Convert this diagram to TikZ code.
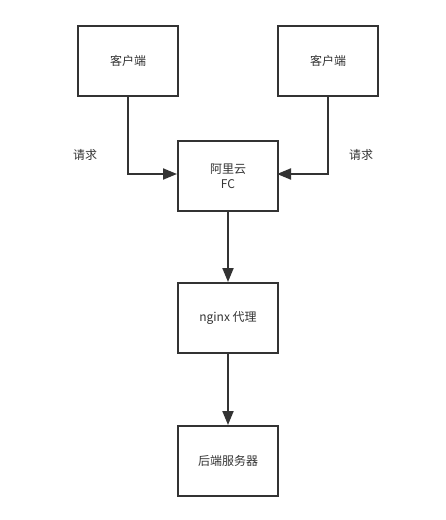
\documentclass[tikz,border=0pt]{standalone}
\usepackage{fontspec}
\setmainfont{Noto Sans CJK SC}
\usetikzlibrary{arrows.meta}
\definecolor{ink}{HTML}{333333}
\begin{document}
\begin{tikzpicture}[x=1pt,y=-1pt,
  box/.style={draw=ink,line width=2pt,minimum width=100pt,minimum height=70pt,inner sep=0pt,text=ink,font=\fontsize{12}{15}\selectfont,align=center,anchor=north west},
  lbl/.style={text=ink,font=\fontsize{12}{15}\selectfont},
  conn/.style={draw=ink,line width=2pt,-{Triangle[length=14pt,width=11pt]}}]
\useasboundingbox (0,0) rectangle (446,520);
\node[box] (c1) at (77,25) {客户端};
\node[box] (c2) at (277,25) {客户端};
\node[box] (fc) at (177,140) {阿里云\\FC};
\node[box] (ng) at (177,282) {nginx 代理};
\node[box] (be) at (177,425) {后端服务器};
\node[lbl] (l1) at (85,155) {请求};
\node[lbl] (l2) at (361,155) {请求};
\coordinate (fcl) at (177,174);
\coordinate (fcr) at (277,174);
\draw[conn] (c1.south) |- (fcl);
\draw[conn] (c2.south) |- (fcr);
\draw[conn] (fc.south) -- (ng.north);
\draw[conn] (ng.south) -- (be.north);
\end{tikzpicture}
\end{document}
